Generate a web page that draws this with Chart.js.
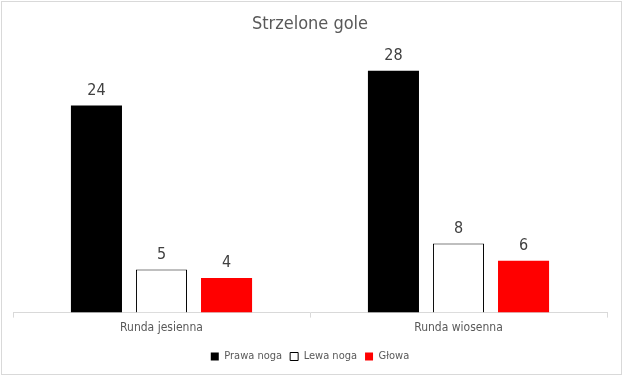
<!DOCTYPE html>
<html>
<head>
<meta charset="utf-8">
<script src="https://cdn.jsdelivr.net/npm/chart.js@4/dist/chart.umd.min.js"></script>
<style>
  html, body { margin: 0; padding: 0; background: #fff; }
  #wrap { width: 625px; height: 377px; position: relative; }
</style>
</head>
<body>
<div id="wrap"><canvas id="myChart"></canvas></div>
<script>
// categories and series
const categories = ["Runda jesienna", "Runda wiosenna"];
const prawaNoga = [24, 28];
const lewaNoga = [5, 8];
const glowa = [4, 6];
const seriesNames = ["Prawa noga", "Lewa noga", "Głowa"];

const FONT = "'Liberation Sans Narrow', 'DejaVu Sans Condensed', 'Open Sans', sans-serif";

// draws the value above each bar (no datalabels plugin offline)
const valueLabels = {
  id: "valueLabels",
  afterDatasetsDraw(chart) {
    const ctx = chart.ctx;
    ctx.save();
    ctx.font = "16px " + FONT;
    ctx.fillStyle = "#404040";
    ctx.textAlign = "center";
    ctx.textBaseline = "bottom";
    chart.data.datasets.forEach((ds, i) => {
      chart.getDatasetMeta(i).data.forEach((bar, j) => {
        ctx.fillText(ds.data[j], bar.x, bar.y - 7);
      });
    });
    ctx.restore();
  },
};

// light grey frame round the whole chart
const frame = {
  id: "frame",
  beforeDraw(chart) {
    const ctx = chart.ctx;
    ctx.save();
    ctx.strokeStyle = "#d9d9d9";
    ctx.lineWidth = 1;
    ctx.strokeRect(1.5, 1.5, 620, 373);
    ctx.restore();
  },
};

const ctx = document.getElementById("myChart").getContext("2d");
new Chart(ctx, {
  type: "bar",
  data: {
    labels: categories,
    datasets: [
      { label: seriesNames[0], data: prawaNoga, backgroundColor: "#000000", borderColor: "#000000", borderWidth: 0 },
      { label: seriesNames[1], data: lewaNoga, backgroundColor: "#ffffff", borderColor: "#000000", borderWidth: 1 },
      { label: seriesNames[2], data: glowa, backgroundColor: "#ff0000", borderColor: "#ff0000", borderWidth: 0 },
    ],
  },
  options: {
    responsive: true,
    maintainAspectRatio: false,
    animation: false,
    categoryPercentage: 0.657,
    barPercentage: 0.785,
    layout: { padding: { left: 13, right: 18, top: 8, bottom: 5 } },
    scales: {
      x: {
        grid: {
          offset: true,
          drawOnChartArea: false,
          drawTicks: true,
          tickLength: 5,
          color: "#d9d9d9",
        },
        border: { color: "#d9d9d9" },
        ticks: { color: "#595959", font: { family: FONT, size: 12 }, padding: 3 },
        // extra room between the category labels and the legend
        afterFit: (scale) => { scale.height += 5; },
      },
      y: {
        display: false,
        min: 0,
        max: 30,
      },
    },
    plugins: {
      title: {
        display: true,
        text: "Strzelone gole",
        color: "#595959",
        font: { family: FONT, size: 18, weight: "normal" },
        padding: { top: 6, bottom: 18 },
      },
      legend: {
        position: "bottom",
        labels: {
          color: "#595959",
          font: { family: FONT, size: 11 },
          boxWidth: 8,
          boxHeight: 8,
          padding: 8,
        },
      },
      tooltip: { enabled: false },
    },
  },
  plugins: [frame, valueLabels],
});
</script>
</body>
</html>
